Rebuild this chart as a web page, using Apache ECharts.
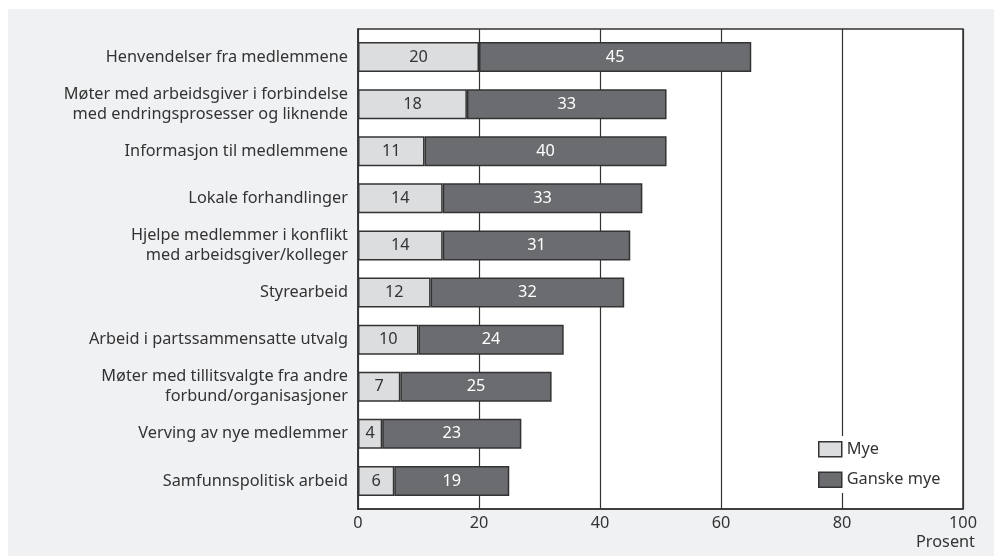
<!DOCTYPE html>
<html>
<head>
<meta charset="utf-8">
<script src="https://cdn.jsdelivr.net/npm/echarts@6/dist/echarts.min.js"></script>
<style>
html,body{margin:0;padding:0;background:#fff;}
#chart{width:994px;height:556px;}
</style>
</head>
<body>
<div id="chart"></div>
<script>
const categories = [
  'Henvendelser fra medlemmene',
  'Møter med arbeidsgiver i forbindelse\nmed endringsprosesser og liknende',
  'Informasjon til medlemmene',
  'Lokale forhandlinger',
  'Hjelpe medlemmer i konflikt\nmed arbeidsgiver/kolleger',
  'Styrearbeid',
  'Arbeid i partssammensatte utvalg',
  'Møter med tillitsvalgte fra andre\nforbund/organisasjoner',
  'Verving av nye medlemmer',
  'Samfunnspolitisk arbeid'
];
const mye = [20, 18, 11, 14, 14, 12, 10, 7, 4, 6];
const ganskeMye = [45, 33, 40, 33, 31, 32, 24, 25, 23, 19];
const seriesNames = ['Mye', 'Ganske mye'];
const xTicks = { min: 0, max: 100, interval: 20 };
const axisTitle = 'Prosent';

const FONT = 'Noto Sans';
const FS = 16.3;
const chart = echarts.init(document.getElementById('chart'));
chart.setOption({
  animation: false,
  textStyle: { fontFamily: FONT },
  graphic: [
    { type: 'rect', left: 8, top: 9, shape: { width: 986, height: 547 }, style: { fill: '#f0f1f3' }, z: -10 },
    { type: 'text', right: 19, top: 534, style: { text: axisTitle, fill: '#333', font: FS + 'px "' + FONT + '"', textAlign: 'right' } }
  ],
  grid: [
    { left: 358, right: 31, top: 33.5, bottom: 51.5 },
    { left: 358, right: 31, top: 29, bottom: 47, show: true, backgroundColor: '#fff', borderColor: '#333', borderWidth: 1.5, z: 0 }
  ],
  legend: {
    orient: 'vertical',
    left: 808, top: 436,
    backgroundColor: '#fff',
    padding: [5, 14, 5, 10],
    itemWidth: 23, itemHeight: 15, itemGap: 14,
    icon: 'rect',
    itemStyle: { borderColor: '#333', borderWidth: 1.5 },
    textStyle: { fontSize: FS, color: '#333', fontFamily: FONT },
    data: seriesNames
  },
  xAxis: [
    {
      gridIndex: 0, type: 'value', min: xTicks.min, max: xTicks.max, interval: xTicks.interval,
      show: false
    },
    {
      gridIndex: 1, type: 'value', min: xTicks.min, max: xTicks.max, interval: xTicks.interval,
      axisLine: { show: true, lineStyle: { color: '#333', width: 1.5 } },
      axisTick: { show: false },
      splitLine: { show: true, lineStyle: { color: '#333', width: 1.2 } },
      axisLabel: { color: '#333', fontSize: FS, margin: 6, fontFamily: FONT }
    }
  ],
  yAxis: [
    {
      gridIndex: 0, type: 'category', inverse: true, data: categories,
      axisLine: { show: false },
      axisTick: { show: false },
      axisLabel: { color: '#333', fontSize: FS, lineHeight: 20, margin: 10, fontFamily: FONT }
    },
    {
      gridIndex: 1, type: 'category', inverse: true, data: categories,
      axisLine: { show: true, lineStyle: { color: '#333', width: 1.5 } },
      axisTick: { show: false },
      axisLabel: { show: false }
    }
  ],
  series: [
    {
      name: seriesNames[0], type: 'bar', stack: 'a', data: mye, barWidth: 30,
      xAxisIndex: 0, yAxisIndex: 0, z: 5,
      itemStyle: { color: '#dcdddf', borderColor: '#333', borderWidth: 1.5 },
      label: { show: true, position: 'inside', color: '#333', fontSize: FS, fontFamily: FONT }
    },
    {
      name: seriesNames[1], type: 'bar', stack: 'a', data: ganskeMye, barWidth: 30,
      xAxisIndex: 0, yAxisIndex: 0, z: 5,
      itemStyle: { color: '#6b6c70', borderColor: '#333', borderWidth: 1.5 },
      label: { show: true, position: 'inside', color: '#fff', fontSize: FS, fontFamily: FONT }
    }
  ]
});
</script>
</body>
</html>
